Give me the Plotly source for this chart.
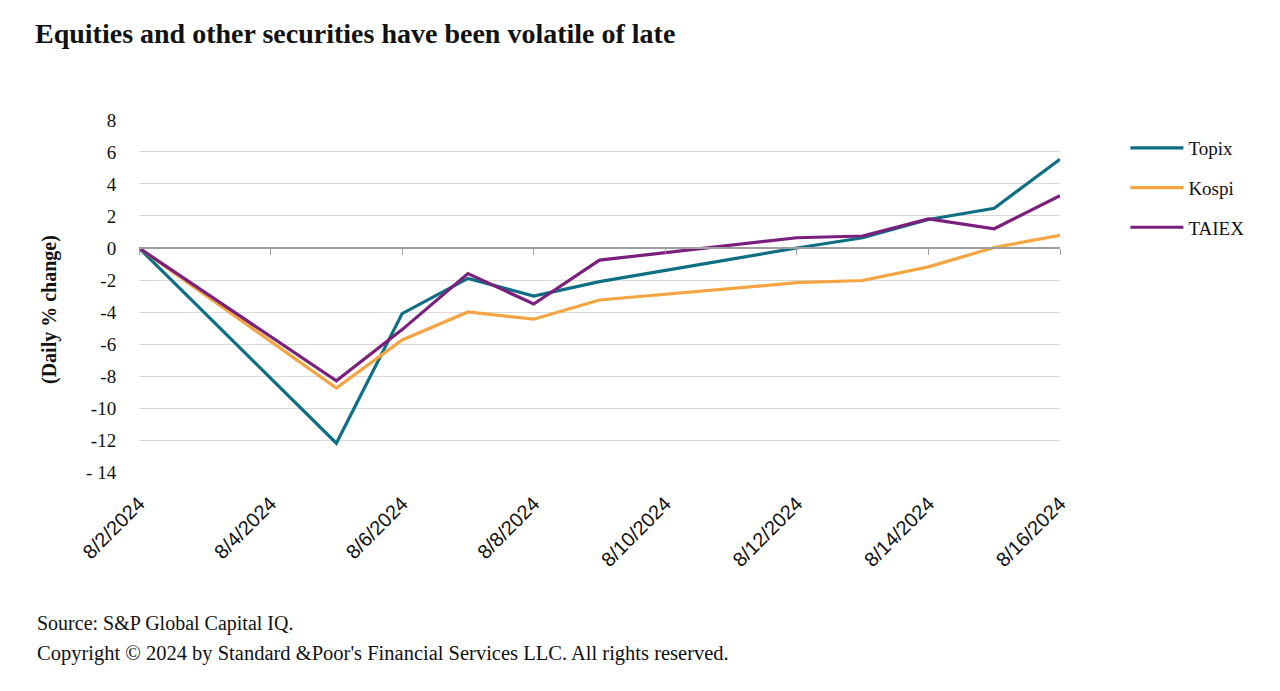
import plotly.graph_objects as go

dates = ["2024-08-02", "2024-08-05", "2024-08-06", "2024-08-07", "2024-08-08",
         "2024-08-09", "2024-08-12", "2024-08-13", "2024-08-14", "2024-08-15", "2024-08-16"]
topix = [0.0, -12.2, -4.1, -1.9, -3.0, -2.1, 0.0, 0.64, 1.78, 2.48, 5.55]
kospi = [0.0, -8.75, -5.75, -4.0, -4.45, -3.25, -2.17, -2.03, -1.18, 0.03, 0.79]
taiex = [0.0, -8.3, -5.1, -1.6, -3.5, -0.76, 0.64, 0.75, 1.82, 1.2, 3.27]

y_tickvals = [-14, -12, -10, -8, -6, -4, -2, 0, 2, 4, 6, 8]
y_ticktext = ["- 14", "-12", "-10", "-8", "-6", "-4", "-2", "0", "2", "4", "6", "8"]

series = [("Topix", topix, "#0E6E83"), ("Kospi", kospi, "#F4A441"), ("TAIEX", taiex, "#7A1F7E")]

y_min, y_max = -14, 8
serif = "Liberation Serif, Times New Roman, serif"
sans = "Liberation Sans, Arial, sans-serif"

fig = go.Figure()
for name, vals, col in series:
    fig.add_trace(go.Scatter(x=dates, y=vals, name=name, mode="lines", legendgroup=name,
                             line=dict(color=col, width=3.2)))

# page offset compensation (8px)
off = 8
plot_l, plot_r, plot_t, plot_b = 139, 1060, 119, 473
W, H = 1280, 691
pw, ph = plot_r - plot_l, plot_b - plot_t

lo, hi = y_min - 0.06, y_max + 0.06
zero_frac = (0 - lo) / (hi - lo)

fig.update_layout(
    width=W, height=H,
    paper_bgcolor="white", plot_bgcolor="white",
    margin=dict(l=plot_l - off, r=W - plot_r + off, t=plot_t - off, b=H - plot_b + off),
    title=dict(text="<b>Equities and other securities have been volatile of late</b>",
               x=(35 - off) / W, xanchor="left", y=1 - (33 - off) / H, yanchor="middle",
               font=dict(family=serif, size=28, color="#111111")),
    showlegend=True,
    legend=dict(x=1.071, xanchor="left", y=1 - 10 / ph, yanchor="top",
                font=dict(family=serif, size=19, color="#111111"),
                tracegroupgap=12, itemwidth=53, bgcolor="rgba(0,0,0,0)"),
    xaxis=dict(type="date", range=["2024-08-02", "2024-08-16"],
               tick0="2024-08-02", dtick=2 * 86400000, tickformat="%-m/%-d/%Y",
               tickangle=-45, showgrid=False, zeroline=False, showline=False,
               ticks="outside", ticklen=10, tickcolor="rgba(0,0,0,0)",
               tickfont=dict(family=sans, size=20, color="#111111")),
    xaxis2=dict(type="date", overlaying="x", matches="x", anchor="free", position=zero_frac,
                tick0="2024-08-02", dtick=2 * 86400000, showticklabels=False,
                ticks="outside", ticklen=6, tickcolor="#9E9E9E", showline=True,
                linecolor="#9E9E9E", linewidth=1.5, showgrid=False, zeroline=False),
    yaxis=dict(range=[lo, hi], tickvals=y_tickvals, ticktext=y_ticktext,
               showgrid=True, gridcolor="#D9D9D9", gridwidth=1.2,
               zeroline=False, showline=False,
               ticks="outside", ticklen=18, tickcolor="rgba(0,0,0,0)",
               tickfont=dict(family=serif, size=19, color="#111111")),
)

fig.add_trace(go.Scatter(x=[dates[0]], y=[0], xaxis="x2", mode="lines",
                         showlegend=False, hoverinfo="skip", line=dict(width=0)))

fig.add_annotation(text="<b>(Daily % change)</b>", textangle=-90, xref="paper", yref="paper",
                   x=(49 - plot_l) / pw, xanchor="center", y=(plot_b - 310) / ph, yanchor="middle",
                   showarrow=False, font=dict(family=serif, size=20, color="#111111"))
fig.add_annotation(text="Source: S&P Global Capital IQ.", xref="paper", yref="paper",
                   x=(35 - plot_l) / pw, xanchor="left", y=-(623 - plot_b) / ph, yanchor="middle",
                   showarrow=False, font=dict(family=serif, size=20, color="#111111"))
fig.add_annotation(text="Copyright © 2024 by Standard &Poor's Financial Services LLC. All rights reserved.",
                   xref="paper", yref="paper",
                   x=(35 - plot_l) / pw, xanchor="left", y=-(653 - plot_b) / ph, yanchor="middle",
                   showarrow=False, font=dict(family=serif, size=20.5, color="#111111"))

fig.write_html("out.html")
